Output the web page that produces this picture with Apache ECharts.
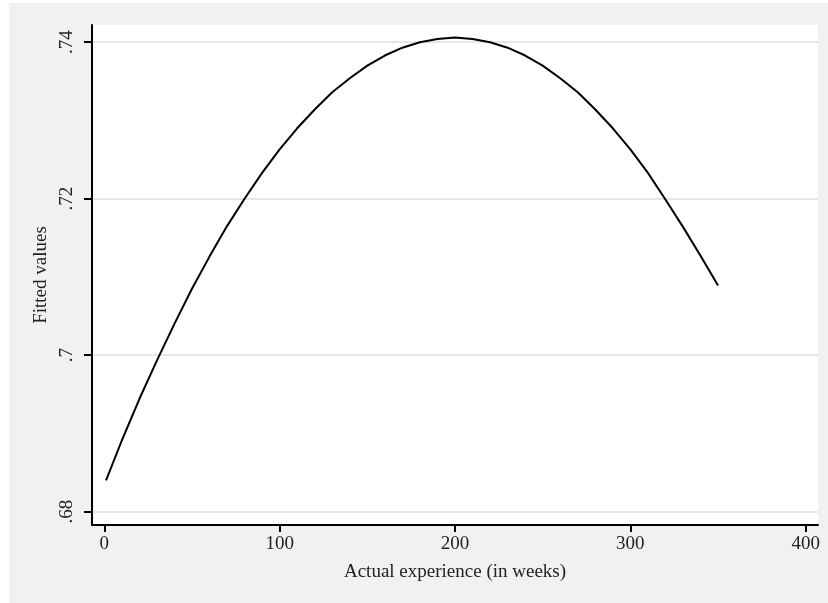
<!DOCTYPE html>
<html>
<head>
<meta charset="utf-8">
<script src="https://cdn.jsdelivr.net/npm/echarts@6/dist/echarts.min.js"></script>
<style>
  html, body { margin: 0; padding: 0; background: #fff; }
  #chart { width: 828px; height: 603px; }
</style>
</head>
<body>
<div id="chart"></div>
<script>
// weeks of experience and fitted values
var weeks = [1, 10, 20, 30, 40, 50, 60, 70, 80, 90, 100, 110, 120, 130, 140, 150, 160, 170, 180,
  190, 200, 210, 220, 230, 240, 250, 260, 270, 280, 290, 300, 310, 320, 330, 340, 350];
var fitted = [0.6840, 0.6891, 0.6944, 0.6993, 0.7040, 0.7085, 0.7126, 0.7165, 0.7200, 0.7233,
  0.7263, 0.7290, 0.7314, 0.7336, 0.7354, 0.7370, 0.7383, 0.7393, 0.7400, 0.7404, 0.7406,
  0.7404, 0.7400, 0.7393, 0.7383, 0.7370, 0.7354, 0.7336, 0.7314, 0.7290, 0.7263, 0.7233,
  0.7199, 0.7164, 0.7127, 0.7089];
var xTicks = [0, 100, 200, 300, 400];
var yTicks = [0.68, 0.70, 0.72, 0.74];
var yTickLabels = ['.68', '.7', '.72', '.74'];

var chart = echarts.init(document.getElementById('chart'), null, { renderer: 'canvas' });

var seriesData = weeks.map(function (w, i) { return [w, fitted[i]]; });
var font = '"Liberation Serif", "Times New Roman", serif';

var option = {
  animation: false,
  backgroundColor: '#ffffff',
  graphic: [
    {
      type: 'rect',
      z: -10,
      shape: { x: 9, y: 3, width: 819, height: 600 },
      style: { fill: '#f1f1f1' }
    },
    {
      type: 'rect',
      z: -9,
      shape: { x: 92, y: 25, width: 726, height: 500 },
      style: { fill: '#ffffff' }
    }
  ],
  grid: { left: 92, right: 10, top: 25, bottom: 78 },
  xAxis: {
    type: 'value',
    min: -7,
    max: 407,
    name: 'Actual experience (in weeks)',
    nameLocation: 'middle',
    nameGap: 38,
    nameTextStyle: { fontFamily: font, fontSize: 19, color: '#222' },
    axisLine: { show: true, onZero: false, lineStyle: { color: '#000', width: 2 } },
    axisTick: { show: true, length: 7, customValues: xTicks, lineStyle: { color: '#000', width: 2 } },
    axisLabel: { customValues: xTicks, margin: 10, fontFamily: font, fontSize: 19, color: '#222' },
    splitLine: { show: false }
  },
  yAxis: {
    type: 'value',
    min: 0.6783,
    max: 0.7422,
    name: 'Fitted values',
    nameLocation: 'middle',
    nameGap: 31,
    nameTextStyle: { fontFamily: font, fontSize: 19, color: '#222' },
    axisLine: { show: true, onZero: false, lineStyle: { color: '#000', width: 2 } },
    axisTick: { show: true, length: 8, customValues: yTicks, lineStyle: { color: '#000', width: 2 } },
    axisLabel: {
      customValues: yTicks,
      rotate: 90,
      margin: 15,
      fontFamily: font,
      fontSize: 19,
      color: '#222',
      formatter: function (v) {
        for (var i = 0; i < yTicks.length; i++) {
          if (Math.abs(yTicks[i] - v) < 1e-6) return yTickLabels[i];
        }
        return '';
      }
    },
    splitLine: { show: true, lineStyle: { color: '#e6e6e6', width: 2 } }
  },
  series: [
    {
      type: 'line',
      data: seriesData,
      showSymbol: false,
      smooth: false,
      lineStyle: { color: '#000', width: 2 }
    }
  ]
};

chart.setOption(option);
</script>
</body>
</html>
